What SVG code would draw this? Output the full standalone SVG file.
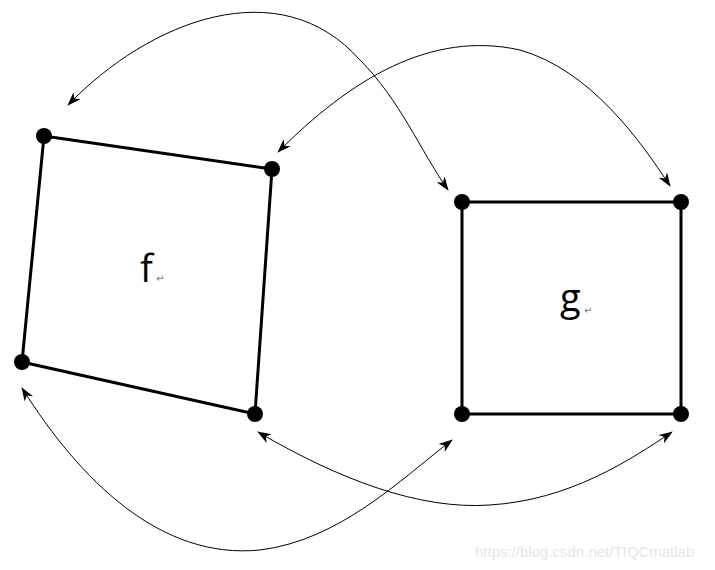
<svg xmlns="http://www.w3.org/2000/svg" width="715" height="570" viewBox="0 0 715 570">
<style>
.e{fill:none;stroke:#000;stroke-width:3}
.c{fill:none;stroke:#000;stroke-width:1;marker-start:url(#a);marker-end:url(#a)}
.d{fill:#000}
.t{font-family:"Open Sans","DejaVu Sans",sans-serif;font-size:38px;fill:#000}
.r{font-family:"DejaVu Sans",sans-serif;font-size:10px;fill:#777}
</style>
<defs><marker id="a" markerWidth="14" markerHeight="10" refX="13" refY="5" orient="auto-start-reverse" markerUnits="userSpaceOnUse"><path d="M0,0 L14,5 L0,10 L4,5Z" fill="#000"/></marker></defs>
<rect width="715" height="570" fill="#fff"/>
<g id="connectors">
<path class="c" d="M68,105 C150,20 280,-30 360,60 C400,100 420,150 448,190"/>
<path class="c" d="M278,152 C350,80 430,30 520,50 C590,70 640,140 670,186"/>
<path class="c" d="M22,388 C80,480 160,560 260,550 C340,540 400,480 452,440"/>
<path class="c" d="M258,432 C340,480 420,510 490,505 C570,500 630,460 672,432"/>
</g>
<g id="f">
<polygon class="e" points="44,136 272,169 255,414 22,362"/>
<circle class="d" cx="44" cy="136" r="8"/><circle class="d" cx="272" cy="169" r="8"/>
<circle class="d" cx="255" cy="414" r="8"/><circle class="d" cx="22" cy="362" r="8"/>
<text class="t" x="140" y="282">f</text><text class="r" x="156" y="282">↵</text>
</g>
<g id="g">
<rect class="e" x="462" y="202" width="219" height="212"/>
<circle class="d" cx="462" cy="202" r="8"/><circle class="d" cx="681" cy="202" r="8"/>
<circle class="d" cx="681" cy="414" r="8"/><circle class="d" cx="462" cy="414" r="8"/>
<text class="t" x="560" y="311">g</text><text class="r" x="584" y="314">↵</text>
</g>
<text x="475" y="557" font-family="Liberation Sans,sans-serif" font-size="15" fill="#e6e6e6">https://blog.csdn.net/TIQCmatlab</text>
</svg>
